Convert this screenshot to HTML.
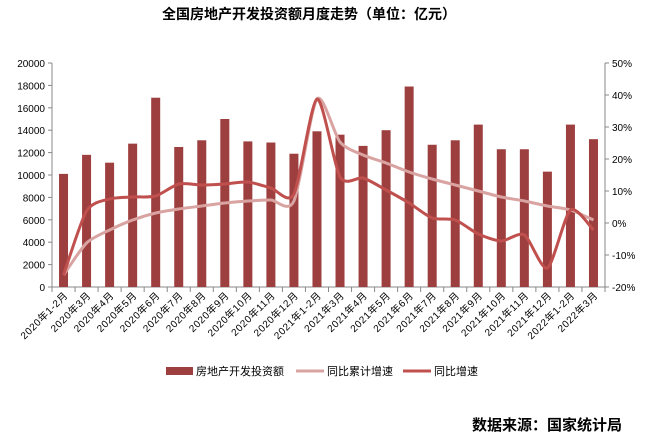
<!DOCTYPE html><html><head><meta charset="utf-8"><style>
body{margin:0;background:#fff;width:647px;height:439px;overflow:hidden}
svg text{font-family:"Liberation Sans","Noto Sans CJK SC",sans-serif}
</style></head><body>
<svg id="s" width="647" height="439" xmlns="http://www.w3.org/2000/svg">
<text x="162" y="19" font-size="14" font-weight="bold" fill="#000">全国房地产开发投资额月度走势（单位：亿元）</text>
<text x="472" y="430" font-size="15" font-weight="bold" fill="#000">数据来源：国家统计局</text>
<g id="g"></g>
<rect x="166" y="367" width="27" height="8" fill="#9e3f3f"/>
<text x="196" y="375" font-size="11">房地产开发投资额</text>
<line x1="296" y1="371" x2="324" y2="371" stroke="#d9a3a1" stroke-width="3"/>
<text x="327" y="375" font-size="11">同比累计增速</text>
<line x1="403" y1="371" x2="431" y2="371" stroke="#c0504d" stroke-width="3"/>
<text x="434" y="375" font-size="11">同比增速</text>
</svg>
<script>
const g=document.getElementById('g');let h='';
const L=52,R=605,T=63,B=287,w=(R-L)/24;
h+=`<line x1="${L}" y1="${T}" x2="${L}" y2="${B}" stroke="#888"/><line x1="${R}" y1="${T}" x2="${R}" y2="${B+5}" stroke="#888"/><line x1="${L}" y1="${B}" x2="${R}" y2="${B}" stroke="#888"/>`;
for(let i=0;i<=10;i++){const y=B-i*(B-T)/10;h+=`<line x1="${L-4}" y1="${y}" x2="${L}" y2="${y}" stroke="#888"/><text x="${L-7}" y="${y+4}" font-size="10" text-anchor="end">${i*2000}</text>`;}
for(let i=0;i<=7;i++){const y=B-i*(B-T)/7;h+=`<line x1="${R}" y1="${y}" x2="${R+4}" y2="${y}" stroke="#888"/><text x="${R+7}" y="${y+4}" font-size="10">${(i-2)*10}%</text>`;}
const v=[10100,11800,11100,12800,16900,12500,13100,15000,13000,12900,11900,13900,13600,12600,14000,17900,12700,13100,14500,12300,12300,10300,14500,13200];
const lab=['2020年1-2月','2020年3月','2020年4月','2020年5月','2020年6月','2020年7月','2020年8月','2020年9月','2020年10月','2020年11月','2020年12月','2021年1-2月','2021年3月','2021年4月','2021年5月','2021年6月','2021年7月','2021年8月','2021年9月','2021年10月','2021年11月','2021年12月','2022年1-2月','2022年3月'];
for(let i=0;i<=24;i++){const x=L+i*w;h+=`<line x1="${x}" y1="${B}" x2="${x}" y2="${B+5}" stroke="#888"/>`;}
v.forEach((d,i)=>{const c=L+(i+.5)*w,y=B-d*(B-T)/20000;h+=`<rect x="${c-4.5}" y="${y}" width="9" height="${B-y}" fill="#9e3f3f"/>`;
h+=`<text transform="translate(${c+5},${B+9}) rotate(-45)" font-size="10" letter-spacing="0.6" text-anchor="end" fill="#000">${lab[i]}</text>`;});
function path(ys){const p=ys.map((y,i)=>[L+(i+.5)*w,y]);let d=`M${p[0][0]},${p[0][1]}`;
for(let i=0;i<p.length-1;i++){const p0=p[i-1]||p[i],p1=p[i],p2=p[i+1],p3=p[i+2]||p2;const k=8;
d+=` C${p1[0]+(p2[0]-p0[0])/k},${p1[1]+(p2[1]-p0[1])/k} ${p2[0]-(p3[0]-p1[0])/k},${p2[1]-(p3[1]-p1[1])/k} ${p2[0]},${p2[1]}`;}return d;}
const a=[275,243,230,220,213,209,206,203,201,200,201,99,142,155,163,172,179,185,191,197,201,206,210,220];
const b=[275,211,199,197,196,184,185,184,182,188,194,99,177,178,190,203,218,220,234,241,235,268,210,230];
h+=`<path d="${path(a)}" fill="none" stroke="#d9a3a1" stroke-width="3"/>`;
h+=`<path d="${path(b)}" fill="none" stroke="#c0504d" stroke-width="3"/>`;
g.innerHTML=h;
</script></body></html>
